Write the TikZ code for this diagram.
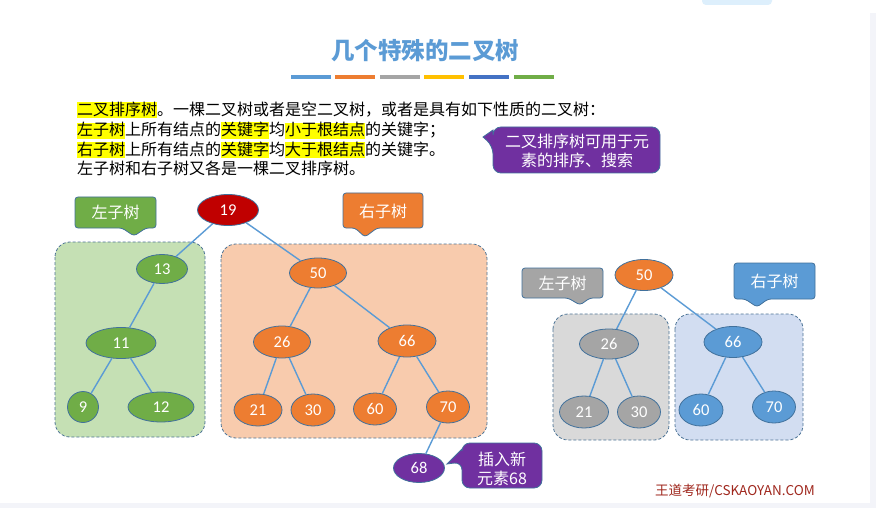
\documentclass[tikz,border=0pt]{standalone}
\usepackage{fontspec}
\setmainfont{Noto Sans CJK SC}
\newfontfamily\numfont{Carlito}
\usetikzlibrary{shapes.geometric}
\definecolor{tblue}{HTML}{5B9BD5}
\definecolor{torange}{HTML}{ED7D31}
\definecolor{tgray}{HTML}{A5A5A5}
\definecolor{tgold}{HTML}{FFC000}
\definecolor{tdblue}{HTML}{4472C4}
\definecolor{tgreen}{HTML}{70AD47}
\definecolor{tred}{HTML}{C00000}
\definecolor{tpurple}{HTML}{7030A0}
\definecolor{lgreen}{HTML}{C5E0B4}
\definecolor{lorange}{HTML}{F8CBAD}
\definecolor{lgray}{HTML}{D9D9D9}
\definecolor{lblue}{HTML}{D2DDF1}
\definecolor{outl}{HTML}{41719C}
\definecolor{edgec}{HTML}{5B9BD5}
\definecolor{hly}{HTML}{FFFF00}
\definecolor{strip}{HTML}{F3F4F9}
\definecolor{pill}{HTML}{DDEFFC}
\definecolor{wmred}{HTML}{A0281E}
\newcommand\hlt[1]{{\setlength\fboxsep{0pt}\colorbox{hly}{\rule[-2.5pt]{0pt}{16pt}#1}}}
\begin{document}
\begin{tikzpicture}[x=1pt,y=-1pt,
  tn/.style={ellipse, inner sep=0pt, draw=outl, line width=0.8pt, text=white,
     font=\numfont\fontsize{16.5}{17}\selectfont},
  grn/.style={tn, fill=tgreen},
  org/.style={tn, fill=torange},
  gry/.style={tn, fill=tgray},
  blu/.style={tn, fill=tblue},
  edgeline/.style={draw=edgec, line width=1.4pt},
  dbox/.style={draw=outl!80!gray, line width=0.8pt, dash pattern=on 3pt off 2pt, rounded corners=15pt},
  cshape/.style={draw=outl, line width=0.8pt, rounded corners=3pt},
  ctext/.style={inner sep=0pt, text=white, font=\fontsize{16}{19}\selectfont, align=center},
  body/.style={inner sep=0pt, anchor=base west, font=\fontsize{16}{19.7}\selectfont},
  bar/.style={line width=4pt}
]
\useasboundingbox (0,0) rectangle (876,508);
\fill[white] (0,0) rectangle (876,508);
\fill[strip] (870,13) rectangle (876,508);
\fill[strip] (0,503) rectangle (876,508);
\fill[pill, rounded corners=4pt] (702,-6) rectangle (772,5);

% title
\node[inner sep=0pt, text=tblue, font=\bfseries\fontsize{23.5}{26}\selectfont] (title) at (425,51) {几个特殊的二叉树};
\draw[bar, tblue]   (291,77) -- (331,77);
\draw[bar, torange] (335,77) -- (375,77);
\draw[bar, tgray]   (380,77) -- (420,77);
\draw[bar, tgold]   (424,77) -- (464,77);
\draw[bar, tdblue]  (469,77) -- (509,77);
\draw[bar, tgreen]  (514,77) -- (554,77);

% body text
\node[body] (l1) at (77,116) {\hlt{二叉排序树}。一棵二叉树或者是空二叉树，或者是具有如下性质的二叉树：};
\node[body] (l2) at (77,136) {\hlt{左子树}上所有结点的\hlt{关键字}均\hlt{小于根结点}的关键字；};
\node[body] (l3) at (77,156) {\hlt{右子树}上所有结点的\hlt{关键字}均\hlt{大于根结点}的关键字。};
\node[body] (l4) at (77,175) {左子树和右子树又各是一棵二叉排序树。};

% purple callout 1
\path[cshape, fill=tpurple, rounded corners=8pt] (493,127) -- (660,127) -- (660,173) -- (493,173) -- (493,146) [sharp corners] -- (483,137) -- (493,130) [rounded corners=8pt] -- cycle;
\node[ctext] (c1) at (577,151) {二叉排序树可用于元\\素的排序、搜索};

% dashed boxes
\draw[dbox, fill=lgreen]  (55,242) rectangle (205,437);
\draw[dbox, fill=lorange] (221,244) rectangle (487,438);
\draw[dbox, fill=lgray]   (553,314) rectangle (669,440);
\draw[dbox, fill=lblue]   (675,314) rectangle (803,440);

% callouts left tree
\path[cshape, fill=tgreen] (75,197) -- (156,197) -- (156,228) -- (146,228) -- (134,236) -- (122,228) -- (75,228) -- cycle;
\node[ctext] (lt1) at (115.5,212.5) {左子树};
\path[cshape, fill=torange] (343,193) -- (423,193) -- (423,228) -- (377,228) -- (365,237) -- (355,228) -- (343,228) -- cycle;
\node[ctext] (rt1) at (383,211) {右子树};

% callouts right tree
\path[cshape, fill=tgray] (522,268) -- (603,268) -- (603,298) -- (590,298) -- (580,305) -- (568,298) -- (522,298) -- cycle;
\node[ctext] (lt2) at (562.5,283) {左子树};
\path[cshape, fill=tblue] (734,263) -- (815,263) -- (815,299) -- (768,299) -- (757,307) -- (745,299) -- (734,299) -- cycle;
\node[ctext] (rt2) at (774.5,281) {右子树};

% purple callout 2
\path[cshape, fill=tpurple, rounded corners=8pt] (462,443) -- (542,443) -- (542,488) -- (462,488) -- (462,462) [sharp corners] -- (447,464) -- (462,449) [rounded corners=8pt] -- cycle;
\node[ctext] (c2) at (502,468.5) {插入新\\元素68};

% left tree nodes
\node[tn, fill=tred, minimum width=61, minimum height=31] (n19) at (228,210) {19};
\node[grn, minimum width=51, minimum height=29] (n13) at (162,269) {13};
\node[grn, minimum width=70, minimum height=31] (n11) at (121,343) {11};
\node[grn, minimum width=31, minimum height=31] (n9) at (83,407) {9};
\node[grn, minimum width=66, minimum height=30] (n12) at (161,407) {12};
\node[org, minimum width=57, minimum height=30] (n50) at (318,273) {50};
\node[org, minimum width=57, minimum height=32] (n26) at (282,342) {26};
\node[org, minimum width=58, minimum height=32] (n66) at (407,341) {66};
\node[org, minimum width=48, minimum height=32] (n21) at (258,410) {21};
\node[org, minimum width=44, minimum height=32] (n30) at (313,410) {30};
\node[org, minimum width=43, minimum height=32] (n60) at (375,409) {60};
\node[org, minimum width=43, minimum height=32] (n70) at (448,407) {70};
\node[tn, fill=tpurple, minimum width=51, minimum height=29] (n68) at (419,468) {68};

\draw[edgeline] (n19) -- (n13);
\draw[edgeline] (n19) -- (n50);
\draw[edgeline] (n13) -- (n11);
\draw[edgeline] (n11) -- (n9);
\draw[edgeline] (n11) -- (n12);
\draw[edgeline] (n50) -- (n26);
\draw[edgeline] (n50) -- (n66);
\draw[edgeline] (n26) -- (n21);
\draw[edgeline] (n26) -- (n30);
\draw[edgeline] (n66) -- (n60);
\draw[edgeline] (n66) -- (n70);
\draw[edgeline] (n70) -- (n68);

% right tree nodes
\node[org, minimum width=58, minimum height=31] (m50) at (644,275) {50};
\node[gry, minimum width=59, minimum height=30] (m26) at (609,344) {26};
\node[gry, minimum width=49, minimum height=32] (m21) at (584,412) {21};
\node[gry, minimum width=43, minimum height=32] (m30) at (639,412) {30};
\node[blu, minimum width=58, minimum height=31] (m66) at (733,342) {66};
\node[blu, minimum width=44, minimum height=32] (m60) at (701,410) {60};
\node[blu, minimum width=43, minimum height=32] (m70) at (774,407) {70};

\draw[edgeline] (m50) -- (m26);
\draw[edgeline] (m50) -- (m66);
\draw[edgeline] (m26) -- (m21);
\draw[edgeline] (m26) -- (m30);
\draw[edgeline] (m66) -- (m60);
\draw[edgeline] (m66) -- (m70);

% footer watermark
\node[inner sep=0pt, anchor=west, text=wmred, font=\fontsize{13.5}{15}\selectfont] (wm) at (655,491) {王道考研/CSKAOYAN.COM};
\end{tikzpicture}
\end{document}
